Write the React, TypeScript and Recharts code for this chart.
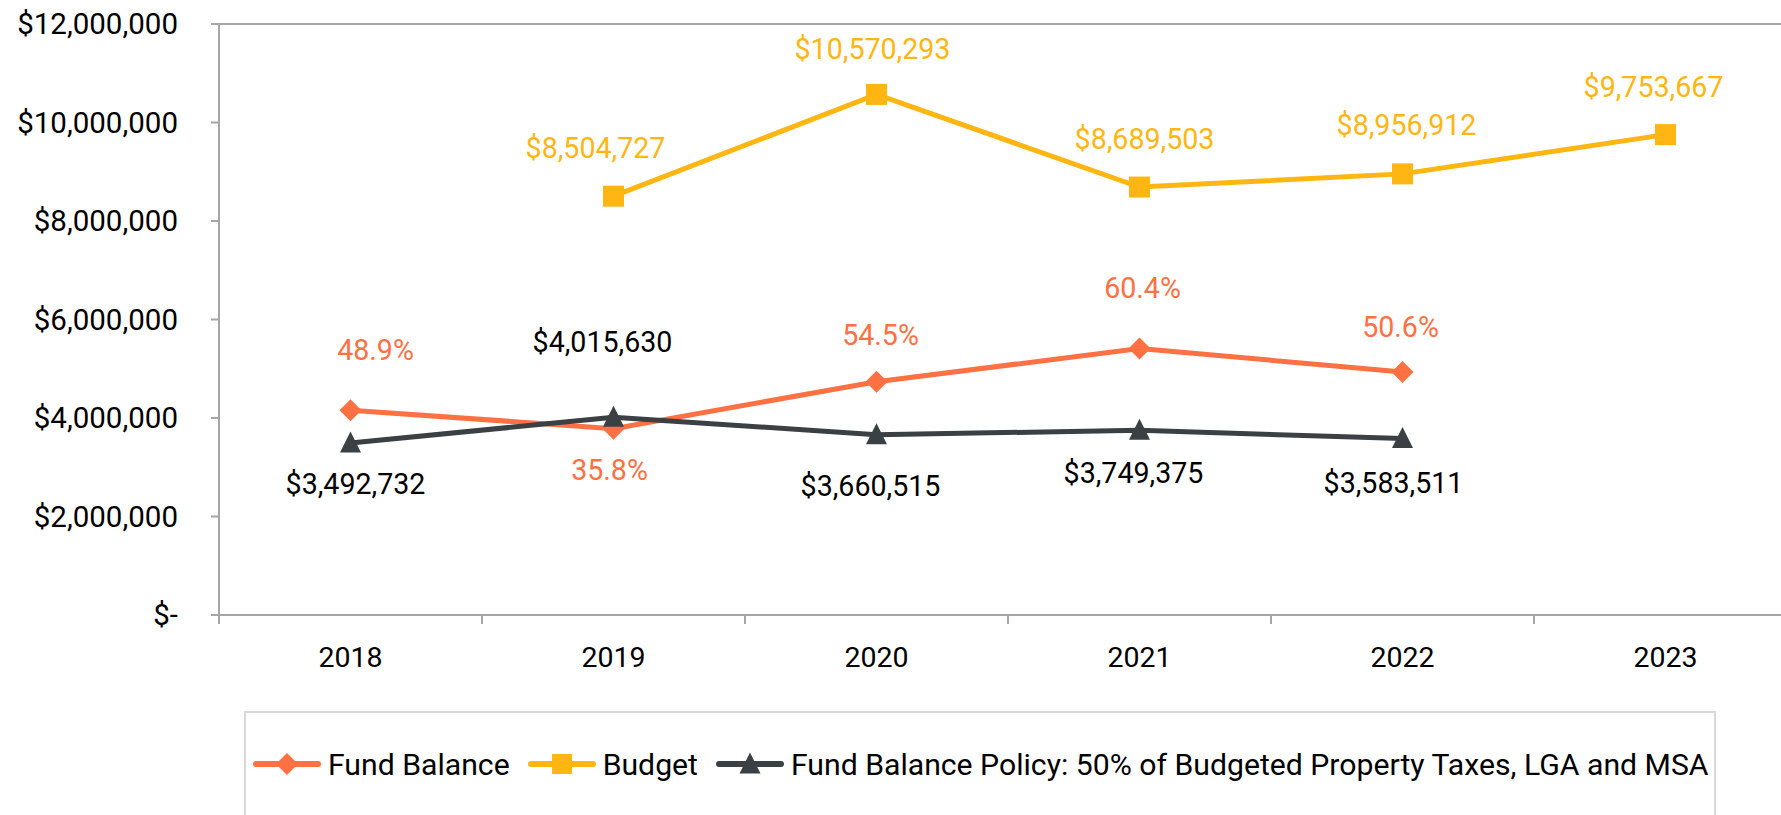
import React from 'react';
import { LineChart, Line, XAxis, YAxis, ReferenceLine, LabelList, Legend } from 'recharts';

const categories = ['2018', '2019', '2020', '2021', '2022', '2023'];
const fundBalance = [4159000, 3784000, 4736000, 5410000, 4935000, null];
const fundBalancePct = ['48.9%', '35.8%', '54.5%', '60.4%', '50.6%', null];
const budget = [null, 8504727, 10570293, 8689503, 8956912, 9753667];
const policy = [3492732, 4015630, 3660515, 3749375, 3583511, null];
const yTicks = [0, 2000000, 4000000, 6000000, 8000000, 10000000, 12000000];

const seriesNames = {
  fund: 'Fund Balance',
  budget: 'Budget',
  policy: 'Fund Balance Policy: 50% of Budgeted Property Taxes, LGA and MSA',
};

// label placement offsets (dx, dy) relative to each point – styling only
const fundLabelOffset = [[25, -60], [-4, 41], [4, -47], [3, -61], [-2, -45], [0, 0]];
const budgetLabelOffset = [[0, 0], [-18, -48], [-4, -45], [5, -48], [4, -49], [-12, -48]];
const policyLabelOffset = [[5, 41], [-11, -75], [-6, 51], [-6, 43], [-9, 44], [0, 0]];

const ORANGE = '#FF7043';
const YELLOW = '#FFB612';
const DARK = '#3B4045';
const AXIS = '#a6a6a6';
const FONT = 'Roboto, "Noto Sans", sans-serif';

const CHART_W = 1800;
const CHART_H = 815;
const MARGIN = { top: 24, right: 3, bottom: 140, left: 0 };
const Y_AXIS_W = 219;
const X_AXIS_H = 60;
const PLOT_W = CHART_W - MARGIN.left - MARGIN.right - Y_AXIS_W;
const BAND = PLOT_W / categories.length;

const data = categories.map((year, i) => ({
  year,
  fund: fundBalance[i],
  fundPct: fundBalancePct[i],
  budget: budget[i],
  policy: policy[i],
}));

const fmtMoney = (v: number) => (v === 0 ? '$-' : '$' + v.toLocaleString('en-US'));

const Diamond = ({ cx, cy, r = 11, fill }: any) =>
  cx == null || cy == null ? <g /> : (
    <polygon points={`${cx},${cy - r} ${cx + r},${cy} ${cx},${cy + r} ${cx - r},${cy}`} fill={fill} />
  );
const Square = ({ cx, cy, s = 21, fill }: any) =>
  cx == null || cy == null ? <g /> : <rect x={cx - s / 2} y={cy - s / 2} width={s} height={s} fill={fill} />;
const Triangle = ({ cx, cy, s = 21, fill }: any) =>
  cx == null || cy == null ? <g /> : (
    <polygon points={`${cx},${cy - s * 0.55} ${cx + s / 2},${cy + s * 0.45} ${cx - s / 2},${cy + s * 0.45}`} fill={fill} />
  );

const makeLabel = (offsets: number[][], color: string, textOf: (v: any, i: number) => string | null) => (props: any) => {
  const { x, y, value, index } = props;
  if (x == null || y == null || value == null) return null;
  const t = textOf(value, index);
  if (!t) return null;
  const [dx, dy] = offsets[index] || [0, 0];
  return (
    <text x={x + dx} y={y + dy} textAnchor="middle" dominantBaseline="central" fill={color}
      style={{ fontFamily: FONT, fontSize: 28.6 }}>
      {t}
    </text>
  );
};

const XTick = (props: any) => {
  const { x, y, payload } = props;
  return (
    <g>
      <line x1={x - BAND / 2} x2={x - BAND / 2} y1={y} y2={y + 9} stroke={AXIS} strokeWidth={2} />
      <text x={x} y={y + 52} textAnchor="middle" fill="#000" style={{ fontFamily: FONT, fontSize: 28.5 }}>
        {payload.value}
      </text>
    </g>
  );
};

const LegendIcon = ({ kind, color }: any) => (
  <svg width={70} height={30} style={{ display: 'block' }}>
    <line x1={4} x2={66} y1={15} y2={15} stroke={color} strokeWidth={6} strokeLinecap="round" />
    {kind === 'diamond' && <Diamond cx={35} cy={15} r={11} fill={color} />}
    {kind === 'square' && <Square cx={35} cy={15} s={20} fill={color} />}
    {kind === 'triangle' && <Triangle cx={35} cy={15} s={21} fill={color} />}
  </svg>
);

const legendItems = [
  { name: seriesNames.fund, color: ORANGE, kind: 'diamond' },
  { name: seriesNames.budget, color: YELLOW, kind: 'square' },
  { name: seriesNames.policy, color: DARK, kind: 'triangle' },
];

const LegendContent = () => (
  <div style={{ width: '100%', height: '100%', boxSizing: 'border-box', border: '2px solid #d9d9d9', background: '#fff' }}>
    <div style={{ display: 'flex', alignItems: 'center', height: 40, marginTop: 31, paddingLeft: 6 }}>
      {legendItems.map((it, i) => (
        <div key={i} style={{ display: 'flex', alignItems: 'center', marginRight: 17 }}>
          <LegendIcon kind={it.kind} color={it.color} />
          <span style={{ fontFamily: FONT, fontSize: 30.2, color: '#000', marginLeft: 6, whiteSpace: 'nowrap' }}>{it.name}</span>
        </div>
      ))}
    </div>
  </div>
);

export default function App() {
  return (
    <div style={{ position: 'absolute', left: 0, top: 0, width: 1781, height: 815, overflow: 'hidden', background: '#fff' }}>
      <LineChart width={CHART_W} height={CHART_H} data={data} margin={MARGIN}>
        <XAxis dataKey="year" scale="band" height={X_AXIS_H} axisLine={{ stroke: AXIS, strokeWidth: 2 }} tickLine={false}
          tickSize={0} tickMargin={0} interval={0} tick={<XTick />} />
        <YAxis width={Y_AXIS_W} domain={[0, 12000000]} ticks={yTicks} interval={0} tickFormatter={fmtMoney}
          axisLine={{ stroke: AXIS, strokeWidth: 2 }} tickLine={{ stroke: AXIS, strokeWidth: 2 }}
          tickSize={8} tickMargin={33} tick={{ fill: '#000', fontSize: 29.5, fontFamily: FONT }} />
        <ReferenceLine y={12000000} stroke={AXIS} strokeWidth={2} />
        <Legend verticalAlign="middle" align="center" content={<LegendContent />}
          wrapperStyle={{ position: 'absolute', left: 244, top: 711, width: 1472, height: 110 }} />
        <Line type="linear" dataKey="fund" name={seriesNames.fund} stroke={ORANGE} strokeWidth={5}
          isAnimationActive={false} activeDot={false} dot={(p: any) => <Diamond key={'f' + p.index} cx={p.cx} cy={p.cy} r={11} fill={ORANGE} />}>
          <LabelList dataKey="fund" content={makeLabel(fundLabelOffset, ORANGE, (_v, i) => fundBalancePct[i])} />
        </Line>
        <Line type="linear" dataKey="budget" name={seriesNames.budget} stroke={YELLOW} strokeWidth={5}
          isAnimationActive={false} activeDot={false} dot={(p: any) => <Square key={'b' + p.index} cx={p.cx} cy={p.cy} s={21} fill={YELLOW} />}>
          <LabelList dataKey="budget" content={makeLabel(budgetLabelOffset, YELLOW, (v) => fmtMoney(v))} />
        </Line>
        <Line type="linear" dataKey="policy" name={seriesNames.policy} stroke={DARK} strokeWidth={5}
          isAnimationActive={false} activeDot={false} dot={(p: any) => <Triangle key={'p' + p.index} cx={p.cx} cy={p.cy} s={21} fill={DARK} />}>
          <LabelList dataKey="policy" content={makeLabel(policyLabelOffset, '#000', (v) => fmtMoney(v))} />
        </Line>
      </LineChart>
    </div>
  );
}
